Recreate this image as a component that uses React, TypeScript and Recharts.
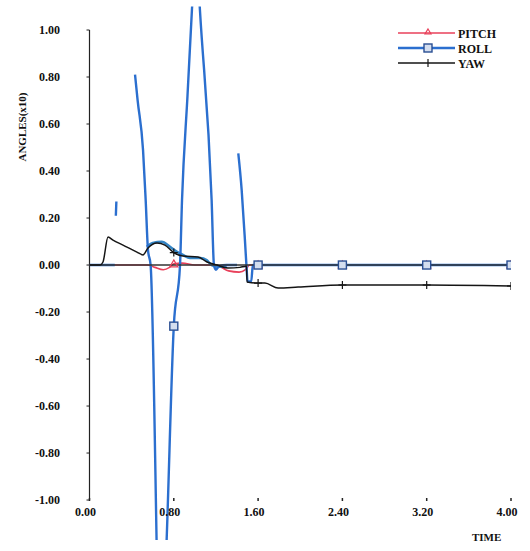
import { Line, LineChart, ReferenceLine, XAxis, YAxis } from 'recharts';

const timeTicks = [0, 0.8, 1.6, 2.4, 3.2, 4.0];
const angleTicks = [-1, -0.8, -0.6, -0.4, -0.2, 0, 0.2, 0.4, 0.6, 0.8, 1];
const markerTimes = [0.8, 1.6, 2.4, 3.2, 4.0];

const pitchTime = [0, 0.55, 0.62, 0.7, 0.76, 0.8, 0.88, 1.0, 1.2, 1.25, 1.32, 1.42, 1.48, 1.52, 1.6, 2.4, 3.2, 4.0];
const pitchAngle = [0, 0, -0.01, -0.02, -0.01, 0.005, 0.008, 0, 0, -0.01, -0.025, -0.03, -0.02, 0, 0, 0, 0, 0];

const rollTime = [0, 0.24, 0.245, 0.25, 0.255, 0.26, 0.432, 0.457, 0.508, 0.533, 0.555, 0.58, 0.677, 0.732, 0.8, 0.859, 0.878, 0.93, 0.972, 1.01, 1.048, 1.159, 1.181, 1.2, 1.23, 1.3, 1.4, 1.405, 1.412, 1.444, 1.475, 1.49, 1.5, 1.535, 1.55, 1.6, 2.4, 3.2, 4.0];
const rollAngle = [0, 0, null, 0.21, 0.27, null, 0.81, 0.7, 0.49, 0.277, 0.064, 0, -1.8, -1.17, -0.26, 0, 0.277, 0.72, 1.085, 1.38, 1.085, 0.277, 0, -0.02, -0.005, 0, 0, null, 0.475, 0.32, 0.106, -0.007, -0.07, -0.07, 0, 0, 0, 0, 0];

// second roll trace, the small wiggle just above zero
const rollWiggleTime = [0.543, 0.6, 0.685, 0.764, 0.827, 0.887, 0.953, 1.05, 1.112, 1.159, 1.219, 1.302];
const rollWiggleAngle = [0.078, 0.094, 0.099, 0.078, 0.057, 0.043, 0.03, 0.03, 0.021, 0, -0.007, -0.007];

const yawTime = [0, 0.1, 0.128, 0.176, 0.223, 0.318, 0.45, 0.508, 0.555, 0.64, 0.716, 0.8, 0.887, 1.03, 1.115, 1.21, 1.314, 1.428, 1.49, 1.495, 1.6, 1.665, 1.79, 1.98, 2.4, 3.2, 4.0];
const yawAngle = [0, 0, 0.013, 0.119, 0.106, 0.085, 0.055, 0.043, 0.072, 0.094, 0.085, 0.053, 0.038, 0.034, 0.013, 0, -0.013, -0.01, -0.005, -0.072, -0.077, -0.077, -0.098, -0.094, -0.085, -0.085, -0.089];

const zip = (t: number[], v: (number | null)[]) => t.map((x, i) => ({ t: x, v: v[i] }));

const pitchData = zip(pitchTime, pitchAngle);
const rollData = zip(rollTime, rollAngle);
const rollWiggleData = zip(rollWiggleTime, rollWiggleAngle);
const yawData = zip(yawTime, yawAngle);

const PITCH = '#e8405a';
const ROLL = '#2b6fcf';
const YAW = '#151515';
const FONT = '"Liberation Serif", "DejaVu Serif", serif';

const isMarker = (t: number) => markerTimes.some((m) => Math.abs(m - t) < 1e-6);

const triangleDot = (p: any) => {
  if (p.cy == null || !isMarker(p.payload.t)) return <g key={p.index} />;
  return <path key={p.index} d={`M${p.cx},${p.cy - 4}L${p.cx + 4},${p.cy + 3}L${p.cx - 4},${p.cy + 3}Z`} fill="none" stroke={PITCH} strokeWidth={1.2} />;
};
const squareDot = (p: any) => {
  if (p.cy == null || !isMarker(p.payload.t)) return <g key={p.index} />;
  return <rect key={p.index} x={p.cx - 4} y={p.cy - 4} width={8} height={8} fill="#d4deef" stroke="#2a4f93" strokeWidth={1.4} />;
};
const plusDot = (p: any) => {
  if (p.cy == null || !isMarker(p.payload.t)) return <g key={p.index} />;
  return (
    <g key={p.index} stroke={YAW} strokeWidth={1.2}>
      <line x1={p.cx - 4} y1={p.cy} x2={p.cx + 4} y2={p.cy} />
      <line x1={p.cx} y1={p.cy - 4} x2={p.cx} y2={p.cy + 4} />
    </g>
  );
};

const TimeTick = (p: any) => (
  <g>
    <line x1={p.x} y1={p.y - 42} x2={p.x} y2={p.y - 39} stroke="#222" strokeWidth={1.5} />
    <text x={p.x - 4} y={p.y - 24} textAnchor="middle" fontSize={12} fontWeight={700} fontFamily={FONT} fill="#111">
      {Number(p.payload.value).toFixed(2)}
    </text>
  </g>
);

const legendRows = [
  { name: 'PITCH', color: PITCH, mark: 'tri' },
  { name: 'ROLL', color: ROLL, mark: 'sq' },
  { name: 'YAW', color: YAW, mark: 'plus' },
];

const LegendBox = () => (
  <div style={{ position: 'absolute', left: 398, top: 27, fontFamily: FONT, fontSize: 12, fontWeight: 700, color: '#111' }}>
    {legendRows.map((r) => (
      <div key={r.name} style={{ display: 'flex', alignItems: 'center', height: 15 }}>
        <svg width={58} height={15}>
          <line x1={0} y1={6} x2={57} y2={6} stroke={r.color} strokeWidth={r.mark === 'sq' ? 2.5 : 1.5} />
          {r.mark === 'tri' && <path d="M30,2L33,7L27,7Z" fill="none" stroke={r.color} strokeWidth={1.2} />}
          {r.mark === 'sq' && <rect x={26} y={2} width={8} height={8} fill="#d4deef" stroke="#2a4f93" strokeWidth={1.4} />}
          {r.mark === 'plus' && <line x1={30} y1={2} x2={30} y2={10} stroke={r.color} strokeWidth={1.2} />}
        </svg>
        <span style={{ marginLeft: 2, lineHeight: '15px' }}>{r.name}</span>
      </div>
    ))}
  </div>
);

const App = () => {
  return (
    <div style={{ position: 'absolute', left: 0, top: 0, width: 530, height: 551, background: '#fff', fontFamily: FONT }}>
      <LineChart width={530} height={551} margin={{ top: 6.5, right: 19, bottom: 1, left: 0 }}>
        <XAxis
          dataKey="t"
          type="number"
          domain={[0, 4]}
          ticks={timeTicks}
          allowDataOverflow
          axisLine={false}
          tickLine={false}
          tickSize={0}
          tickMargin={0}
          height={10}
          tick={<TimeTick />}
        />
        <YAxis
          type="number"
          domain={[-1.17, 1.1]}
          ticks={angleTicks}
          allowDataOverflow
          width={89.5}
          axisLine={false}
          tickSize={3}
          tickMargin={26.5}
          tickLine={{ stroke: '#222' }}
          tickFormatter={(v: number) => v.toFixed(2)}
          tick={{ fill: '#111', fontSize: 12, fontWeight: 700, fontFamily: FONT }}
        />
        <ReferenceLine segment={[{ x: 0, y: -1 }, { x: 0, y: 1 }]} stroke="#222" strokeWidth={1.2} ifOverflow="visible" />
        <Line type="monotone" data={pitchData} dataKey="v" name="PITCH" stroke={PITCH} strokeWidth={1.6} dot={triangleDot} activeDot={false} isAnimationActive={false} />
        <Line type="monotone" data={rollWiggleData} dataKey="v" name="ROLL2" stroke="#3384c4" strokeWidth={2.5} dot={false} activeDot={false} legendType="none" isAnimationActive={false} />
        <Line type="monotone" data={rollData} dataKey="v" name="ROLL" stroke={ROLL} strokeWidth={2.4} dot={squareDot} activeDot={false} isAnimationActive={false} />
        <ReferenceLine y={0} stroke="#333" strokeWidth={1.3} ifOverflow="visible" />
        <Line type="monotone" data={yawData} dataKey="v" name="YAW" stroke={YAW} strokeWidth={1.5} dot={plusDot} activeDot={false} isAnimationActive={false} />
      </LineChart>
      <LegendBox />
      <div
        style={{
          position: 'absolute',
          left: 22,
          top: 127,
          transform: 'translate(-50%, -50%) rotate(-90deg)',
          fontSize: 11,
          fontWeight: 700,
          whiteSpace: 'nowrap',
          color: '#111',
        }}
      >
        ANGLES(x10)
      </div>
      <div style={{ position: 'absolute', left: 472, top: 531, fontSize: 11, fontWeight: 700, color: '#111' }}>TIME</div>
    </div>
  );
};

export default App;
